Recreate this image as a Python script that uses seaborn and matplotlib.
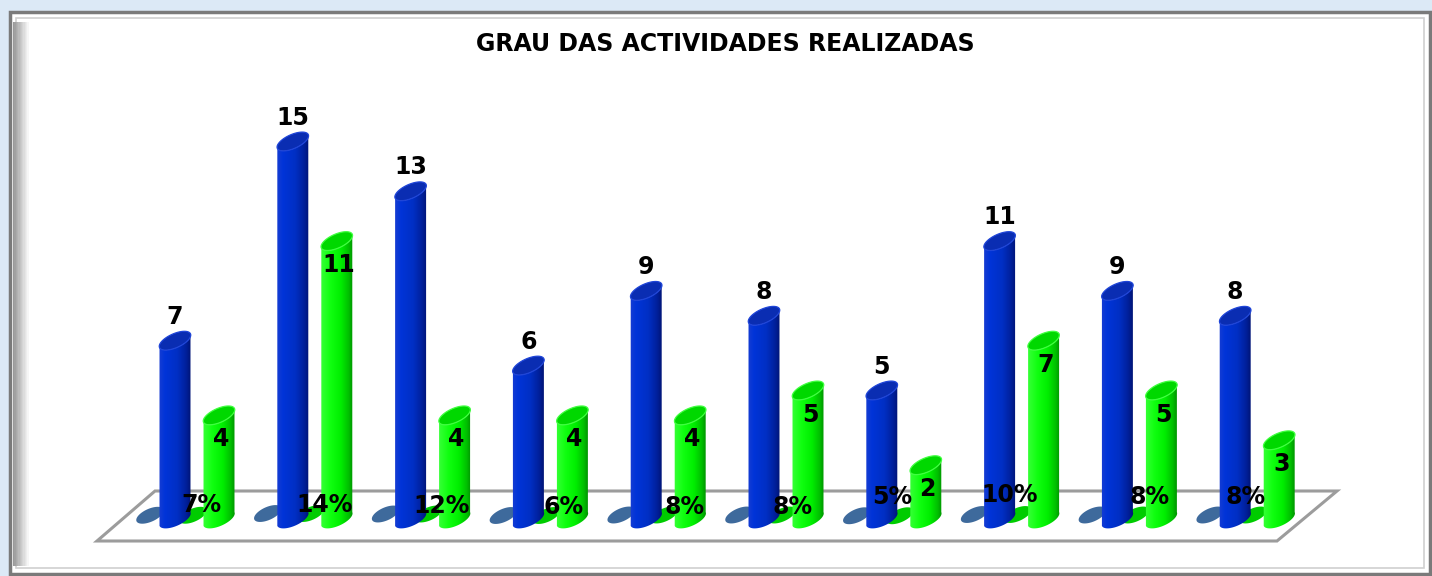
import numpy as np
import pandas as pd
import matplotlib
matplotlib.use("Agg")
import matplotlib.pyplot as plt
import seaborn as sns
from matplotlib.patches import Polygon, Rectangle
from matplotlib.colors import LinearSegmentedColormap

# dados
grupos = ["1", "2", "3", "4", "5", "6", "7", "8", "9", "10"]
realizadas = [7, 15, 13, 6, 9, 8, 5, 11, 9, 8]      # azul
concluidas = [4, 11, 4, 4, 4, 5, 2, 7, 5, 3]        # verde
percentagem = [7, 14, 12, 6, 8, 8, 5, 10, 8, 8]     # %

df = pd.DataFrame({
    "grupo": grupos * 2,
    "valor": realizadas + concluidas,
    "serie": ["Realizadas"] * 10 + ["Concluidas"] * 10,
})

sns.set_theme(style="white")

W, H = 1432, 576
fig = plt.figure(figsize=(W / 100, H / 100), dpi=100)
fig.patch.set_facecolor("#dce9f6")

# moldura do grafico (px -> coordenadas da figura)
def fx(px):
    return px / W

def fy(py):
    return 1 - py / H

fig.patches.append(Rectangle((fx(10), fy(574)), fx(1430) - fx(10), fy(12) - fy(574),
                             transform=fig.transFigure, facecolor="white",
                             edgecolor="#7a7a7a", lw=2.5, zorder=-10))
fig.patches.append(Rectangle((fx(16), fy(568)), fx(1424) - fx(16), fy(18) - fy(568),
                             transform=fig.transFigure, facecolor="none",
                             edgecolor="#d0d0d0", lw=1.2, zorder=-9))
# sombra do lado esquerdo
for k in range(12):
    g = 0.60 + 0.033 * k
    fig.patches.append(Rectangle((fx(13 + k * 1.3), fy(566)), 1.3 / W, (566 - 22) / H,
                                 transform=fig.transFigure, facecolor=(g, g, g),
                                 edgecolor="none", zorder=-8))

ax = fig.add_axes([0, 0, 1, 1])
ax.set_facecolor("none")

# escala em pixels
SX, X0 = 117.8, 197.0
SY, Y0 = 24.9, 515.0

sns.barplot(data=df, x="grupo", y="valor", hue="serie",
            palette=["#0030c8", "#11ee11"], width=0.747, gap=0.296,
            legend=False, ax=ax)

ax.set_xlim(-X0 / SX, (W - X0) / SX)
ax.set_ylim(-(H - Y0) / SY, Y0 / SY)
ax.axis("off")

# chao em perspectiva
floor_px = [(97, 541), (1277, 541), (1337, 491), (155, 491)]
floor = [((px - X0) / SX, (Y0 - py) / SY) for px, py in floor_px]
ax.add_patch(Polygon(floor, closed=True, facecolor="white", edgecolor="#9c9c9c",
                     lw=2.2, zorder=1))

blue_cmap = LinearSegmentedColormap.from_list(
    "b", [(0, "#1a3ed2"), (0.2, "#0034d8"), (0.55, "#002fc4"), (0.8, "#00209c"), (1, "#000f66")])
green_cmap = LinearSegmentedColormap.from_list(
    "g", [(0, "#3aff3a"), (0.3, "#10ff10"), (0.6, "#00ee00"), (0.82, "#00c000"), (1, "#007f00")])

THETA = np.deg2rad(24)
B_PX = 7.0

# deslocamento (px) dos rotulos de percentagem, como no original
pct_dx = [4, 10, 9, 13, 16, 7, -12, -12, 10, -12]
pct_dy = [10, 10, 9, 8, 8, 8, 18, 20, 18, 18]


def ellipse(xc, yc, hw_px, b_px, t):
    a = hw_px / np.cos(THETA)
    dx = a * np.cos(t) * np.cos(THETA) - b_px * np.sin(t) * np.sin(THETA)
    dy = a * np.cos(t) * np.sin(THETA) + b_px * np.sin(t) * np.cos(THETA)
    return np.column_stack([xc + dx / SX, yc + dy / SY])


def cylinder(xc, v, hw_px, cmap, cap_color, cap_edge):
    base = -4 / SY
    t_low = np.linspace(np.pi, 2 * np.pi, 50)
    body = np.vstack([ellipse(xc, base, hw_px, B_PX, t_low),
                      ellipse(xc, v, hw_px, B_PX, t_low[::-1])])
    clip = Polygon(body, closed=True, facecolor="none", edgecolor="none")
    ax.add_patch(clip)
    grad = np.linspace(0, 1, 256).reshape(1, -1)
    im = ax.imshow(grad, cmap=cmap, aspect="auto", interpolation="bicubic",
                   extent=[xc - hw_px / SX * 1.1, xc + hw_px / SX * 1.1,
                           base - 14 / SY, v + 14 / SY], zorder=3)
    im.set_clip_path(clip)
    cap = ellipse(xc, v, hw_px, B_PX, np.linspace(0, 2 * np.pi, 80))
    ax.add_patch(Polygon(cap, closed=True, facecolor=cap_color, edgecolor=cap_edge,
                         lw=0.9, zorder=4))


lbl = dict(fontsize=17, fontweight="bold", color="black", family="DejaVu Sans",
           ha="center", va="center", zorder=6)

blue_bars, green_bars = ax.containers
for i, (bb, gb) in enumerate(zip(blue_bars, green_bars)):
    hw = bb.get_width() * SX / 2
    xb = bb.get_x() + bb.get_width() / 2
    xg = gb.get_x() + gb.get_width() / 2
    vb, vg = bb.get_height(), gb.get_height()
    bb.set_visible(False)
    gb.set_visible(False)

    # series percentuais (quase planas)
    p = percentagem[i] / 100
    ax.add_patch(Polygon(ellipse(xb - 25 / SX, -2 / SY + p, 13.5, 6.5,
                                 np.linspace(0, 2 * np.pi, 60)),
                         closed=True, facecolor="#3e6a9c", edgecolor="none", zorder=2))
    ax.add_patch(Polygon(ellipse(xg - 26 / SX, -2 / SY + p, 13.5, 6.5,
                                 np.linspace(0, 2 * np.pi, 60)),
                         closed=True, facecolor="#00cc00", edgecolor="none", zorder=2))

    cylinder(xb, vb, hw, blue_cmap, "#0a2db2", "#1f45d8")
    cylinder(xg, vg, hw, green_cmap, "#00d800", "#40ff40")

    ax.text(xb, vb + 24 / SY, f"{realizadas[i]}", **lbl)
    ax.text(xg + 2 / SX, vg - 24 / SY, f"{concluidas[i]}", **lbl)
    ax.text(i + pct_dx[i] / SX, pct_dy[i] / SY, f"{percentagem[i]}%", **lbl)

fig.text(fx(725), fy(44), "GRAU DAS ACTIVIDADES REALIZADAS", ha="center", va="center",
         fontsize=17, fontweight="bold", family="DejaVu Sans", color="black")

fig.savefig("out.png", dpi=100, facecolor=fig.get_facecolor())
